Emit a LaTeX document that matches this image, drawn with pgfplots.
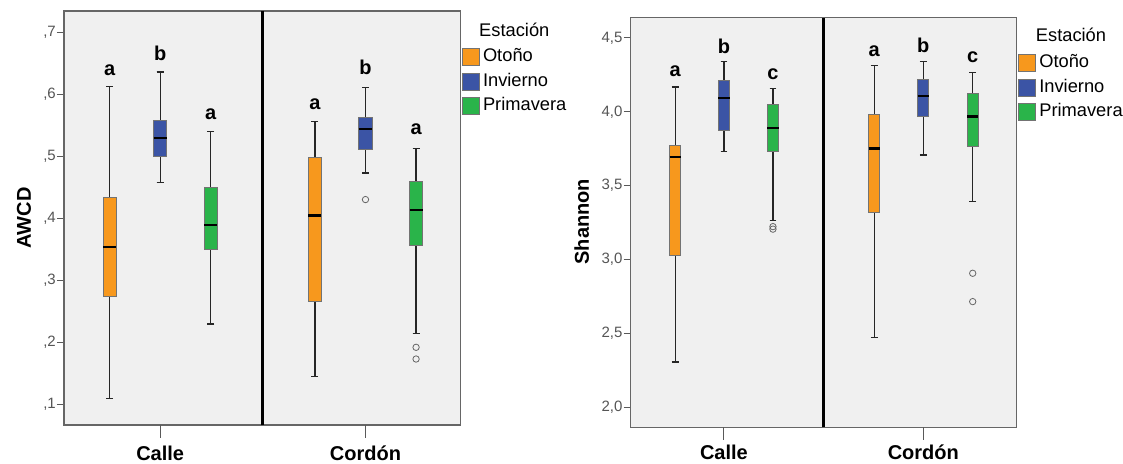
\documentclass[border=0pt]{standalone}
\usepackage{pgfplots}
\pgfplotsset{compat=1.18}
\usepgfplotslibrary{statistics}
\usepackage{fontspec}
\setmainfont{Liberation Sans}
\definecolor{orangeC}{RGB}{247,152,29}
\definecolor{blueC}{RGB}{59,84,165}
\definecolor{greenC}{RGB}{42,180,74}
\definecolor{bgC}{RGB}{240,240,240}
\definecolor{tickC}{RGB}{85,85,85}

\newcommand{\lab}[3]{\node[font=\bfseries\fontsize{20}{24}\selectfont, anchor=base, inner sep=0pt] at (axis cs:#1,#2) {#3};}
% pos, extend, colour, lw, lq, med, uq, uw, outliers
\newcommand{\bp}[9]{\addplot[forget plot, fill=#3, mark=o, mark size=3.2pt,
  mark options={draw=black!60, line width=0.8pt, fill=none},
  boxplot prepared={draw direction=y, draw position=#1, box extend=#2, whisker extend=0.035,
  lower whisker=#4, lower quartile=#5, median=#6, upper quartile=#7, upper whisker=#8}]
  coordinates {#9};}

\pgfplotsset{
 common/.style={scale only axis, anchor=south west, xmin=0, xmax=2, clip=false,
  axis background/.style={fill=bgC},
  axis line style={draw=black!60, line width=1.3pt},
  tick pos=left, tick align=outside, major tick length=7pt,
  tick style={draw=black!65, line width=1pt},
  xtick style={draw=none},
  yticklabel style={font=\fontsize{15}{18}\selectfont, text=tickC, inner sep=1pt},
  xticklabel style={font=\bfseries\fontsize{20}{24}\selectfont, inner sep=0pt, text height=15pt, text depth=0pt, yshift=-13pt},
  ylabel style={font=\bfseries\fontsize{20}{24}\selectfont, anchor=center},
  legend cell align=left,
  legend style={draw=none, fill=none, anchor=north west, inner sep=0pt, outer sep=0pt,
    row sep=6.3pt, column sep=2pt,
    nodes={font=\fontsize{18.3}{21}\selectfont, inner sep=1pt, text height=12pt, text depth=3pt}},
  boxplot/every median/.style={draw=black, line width=2.4pt},
  boxplot/every whisker/.style={draw=black!85, line width=1.3pt},
  boxplot/every box/.style={draw=black!55, line width=1pt},
 },
 legimg/.style={legend image code/.code={\draw[fill=#1, draw=black!55, line width=1pt] (0pt,-8.5pt) rectangle (17pt,8.5pt);}},
}

\begin{document}
\begin{tikzpicture}
\path[use as bounding box] (0,0) rectangle (1123pt,463pt);
% ---------------- AWCD ----------------
\begin{axis}[common, at={(64pt,38pt)}, width=396.7pt, height=414pt,
  ymin=0.0661, ymax=0.7344,
  ytick={0.1,0.2,0.3,0.4,0.5,0.6,0.7},
  yticklabels={{,1},{,2},{,3},{,4},{,5},{,6},{,7}},
  xtick={0.485,1.52}, xticklabels={Calle,Cordón},
  ylabel={AWCD}, ylabel style={at={(rel axis cs:-0.1008,0.5)}},
  legend style={at={(rel axis cs:1,0.9099)}, xshift=1.3pt}]
\bp{0.23}{0.066}{orangeC}{0.109}{0.274}{0.353}{0.433}{0.613}{}
\bp{0.485}{0.066}{blueC}{0.458}{0.500}{0.529}{0.558}{0.636}{}
\bp{0.74}{0.066}{greenC}{0.229}{0.349}{0.389}{0.450}{0.540}{}
\bp{1.265}{0.066}{orangeC}{0.144}{0.266}{0.404}{0.498}{0.556}{}
\bp{1.52}{0.066}{blueC}{0.473}{0.5105}{0.544}{0.563}{0.611}{(0,0.430)}
\bp{1.775}{0.066}{greenC}{0.214}{0.356}{0.413}{0.4595}{0.513}{(0,0.1915) (0,0.1726)}
\addplot[forget plot, black, line width=2.5pt] coordinates {(1,0.0661) (1,0.7344)};
\addplot[forget plot, black!65, line width=1pt] coordinates {(0.485,0.0661) (0.485,0.0451)};
\addplot[forget plot, black!65, line width=1pt] coordinates {(1.52,0.0661) (1.52,0.0451)};
\lab{0.23}{0.631}{a}
\lab{0.485}{0.6537}{b}
\lab{0.74}{0.560}{a}
\lab{1.265}{0.5757}{a}
\lab{1.52}{0.6327}{b}
\lab{1.775}{0.5353}{a}
\node[anchor=west, font=\fontsize{18.3}{21}\selectfont, inner sep=0pt, text height=12pt, text depth=3pt, xshift=18.3pt] at (rel axis cs:1,0.950) {Estación};
\addlegendimage{legimg=orangeC}\addlegendentry{Otoño}
\addlegendimage{legimg=blueC}\addlegendentry{Invierno}
\addlegendimage{legimg=greenC}\addlegendentry{Primavera}
\end{axis}
% ---------------- Shannon ----------------
\begin{axis}[common, at={(630.7pt,35.7pt)}, width=386pt, height=409.6pt,
  ymin=1.8625, ymax=4.6375,
  ytick={2.0,2.5,3.0,3.5,4.0,4.5},
  yticklabels={{2,0},{2,5},{3,0},{3,5},{4,0},{4,5}},
  xtick={0.483,1.516}, xticklabels={Calle,Cordón},
  xticklabel style={yshift=3pt},
  ylabel={Shannon}, ylabel style={at={(rel axis cs:-0.127,0.502)}},
  legend style={at={(rel axis cs:1,0.9106)}, xshift=1.6pt}]
\bp{0.231}{0.058}{orangeC}{2.305}{3.025}{3.692}{3.775}{4.168}{}
\bp{0.483}{0.058}{blueC}{3.73}{3.872}{4.093}{4.209}{4.34}{}
\bp{0.737}{0.058}{greenC}{3.265}{3.73}{3.892}{4.051}{4.159}{(0,3.222) (0,3.205)}
\bp{1.262}{0.058}{orangeC}{2.472}{3.319}{3.75}{3.985}{4.312}{}
\bp{1.516}{0.058}{blueC}{3.707}{3.965}{4.105}{4.218}{4.34}{}
\bp{1.772}{0.058}{greenC}{3.391}{3.768}{3.967}{4.123}{4.265}{(0,2.906) (0,2.714)}
\addplot[forget plot, black, line width=2.5pt] coordinates {(1,1.8625) (1,4.6375)};
\addplot[forget plot, black!65, line width=1pt] coordinates {(0.483,1.8625) (0.483,1.7744)};
\addplot[forget plot, black!65, line width=1pt] coordinates {(1.516,1.8625) (1.516,1.7744)};
\lab{0.231}{4.238}{a}
\lab{0.483}{4.396}{b}
\lab{0.737}{4.220}{c}
\lab{1.262}{4.378}{a}
\lab{1.516}{4.403}{b}
\lab{1.772}{4.333}{c}
\node[anchor=west, font=\fontsize{18.3}{21}\selectfont, inner sep=0pt, text height=12pt, text depth=3pt, xshift=19pt] at (rel axis cs:1,0.954) {Estación};
\addlegendimage{legimg=orangeC}\addlegendentry{Otoño}
\addlegendimage{legimg=blueC}\addlegendentry{Invierno}
\addlegendimage{legimg=greenC}\addlegendentry{Primavera}
\end{axis}
\end{tikzpicture}
\end{document}
